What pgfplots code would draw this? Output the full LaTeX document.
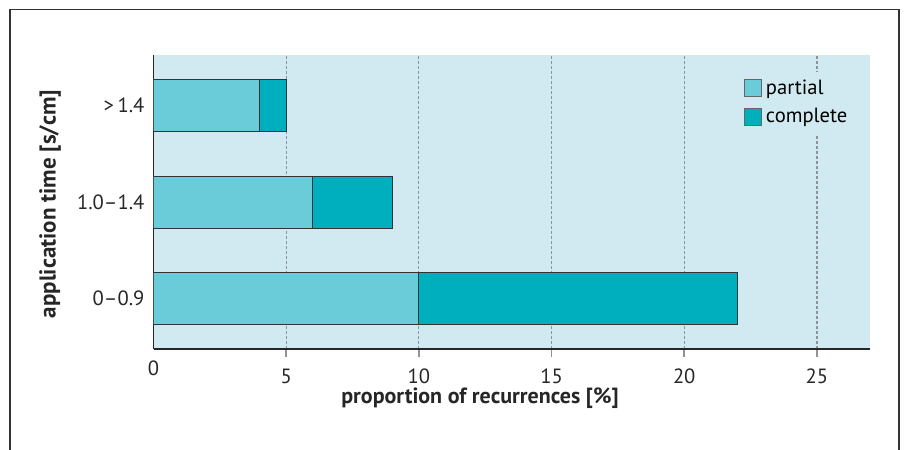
\documentclass[border=0pt]{standalone}
\usepackage{pgfplots}
\pgfplotsset{compat=1.18}
\usepackage{fontspec}
\setmainfont{PT Sans}
\definecolor{bgblue}{HTML}{D1EAF1}
\definecolor{partialc}{HTML}{6BCCD9}
\definecolor{completec}{HTML}{00AFBE}
\definecolor{framegray}{HTML}{333333}
\definecolor{gridgray}{HTML}{8A9499}

\begin{document}
\begin{tikzpicture}
  % page = 907 x 450 px, 1 px = 0.5 pt, origin at top left
  \useasboundingbox (0,0) rectangle (453.5pt,-225pt);
  \draw[framegray, line width=0.9pt] (5pt,-260pt) -- (5pt,-4.75pt) -- (449.5pt,-4.75pt) -- (449.5pt,-260pt);

  \begin{axis}[
    at={(76.75pt,-174.5pt)}, anchor=south west,
    scale only axis,
    width=358.25pt, height=147pt,
    xbar stacked,
    bar width=26pt,
    xmin=0, xmax=27,
    ymin=-0.52, ymax=2.52,
    ytick={0,1,2},
    yticklabels={0--0.9, 1.0--1.4, {>\,1.4}},
    xtick={5,10,15,20,25},
    extra x ticks={0},
    extra x tick style={major tick length=0pt, grid=none},
    axis x line*=bottom,
    axis y line*=left,
    axis line style={-, line width=0.75pt, black!85},
    y axis line style={line width=0.6pt},
    ytick style={draw=none},
    xtick style={gridgray, line width=0.8pt},
    tick align=outside,
    major tick length=4pt,
    xmajorgrids,
    grid style={dash pattern=on 1.5pt off 1pt, gridgray, line width=0.6pt},
    axis background/.style={fill=bgblue},
    tick label style={font=\fontsize{10.3}{12}\selectfont, text=black!85},
    xticklabel style={yshift=-2.5pt},
    yticklabel style={xshift=3pt},
    /pgf/number format/assume math mode=true,
    legend style={at={(rel axis cs:0.818,0.945)}, anchor=north west,
      fill=bgblue, draw=none, font=\fontsize{10.3}{12}\selectfont,
      row sep=1.5pt, inner sep=2pt},
    legend cell align=left,
    legend image code/.code={\draw[#1, draw=black!60, line width=0.5pt] (0pt,-4.25pt) rectangle (8.5pt,4.25pt);},
  ]
    \addplot[fill=partialc, draw=black!80, line width=0.5pt]
      coordinates {(10,0) (6,1) (4,2)};
    \addplot[fill=completec, draw=black!80, line width=0.5pt]
      coordinates {(12,0) (3,1) (1,2)};
    \legend{partial, complete}
  \end{axis}

  \node[font=\bfseries\fontsize{11}{13}\selectfont, text=black!85] at (240pt,-199pt) {proportion of recurrences [\%]};
  \node[font=\bfseries\fontsize{11.5}{13}\selectfont, text=black!85, rotate=90] at (25pt,-102pt) {application time [s/cm]};
\end{tikzpicture}
\end{document}
